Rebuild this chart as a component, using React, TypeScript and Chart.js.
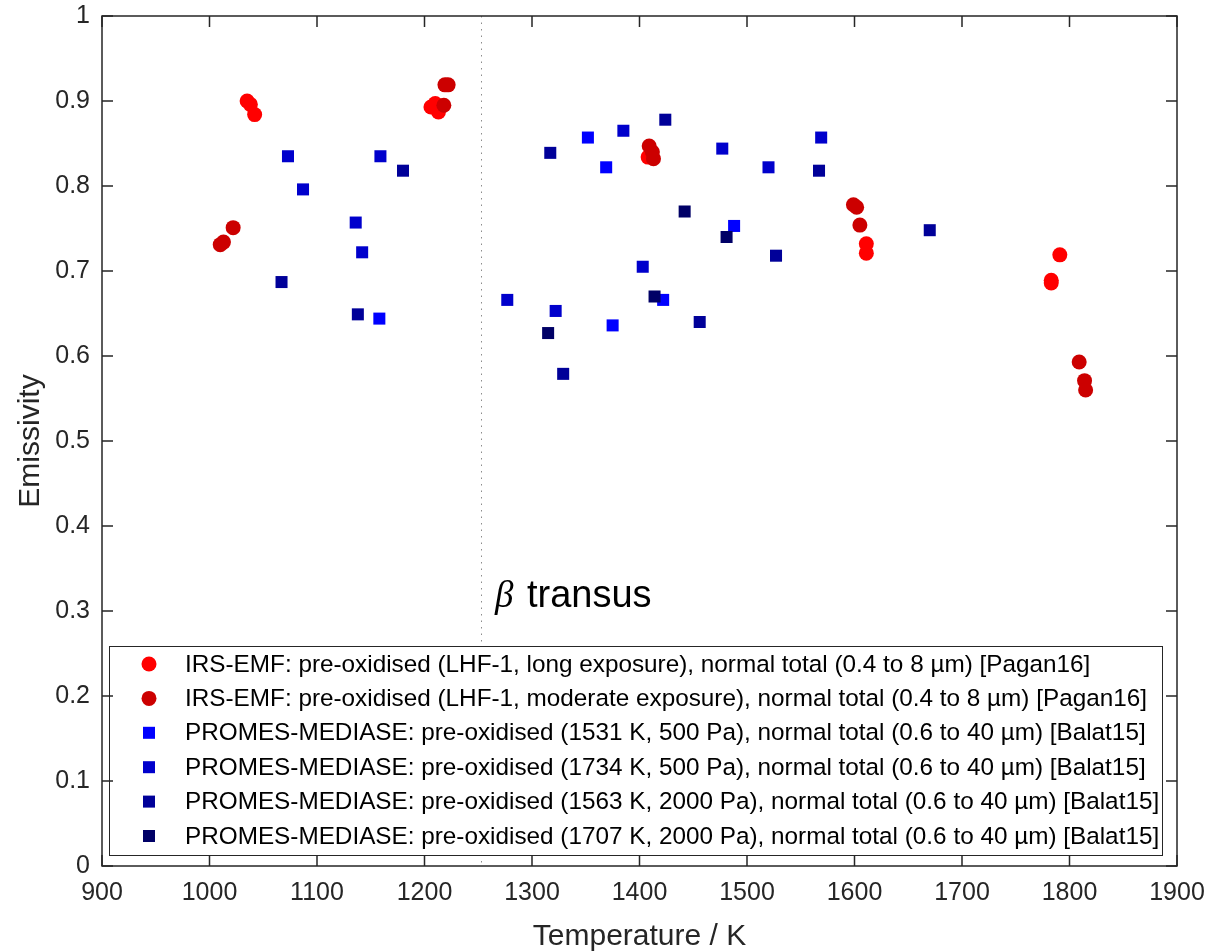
import { useEffect, useRef } from "react";
import { Chart, registerables } from "chart.js";

Chart.register(...registerables);

const xTicks = [900, 1000, 1100, 1200, 1300, 1400, 1500, 1600, 1700, 1800, 1900];
const yTicks = [0, 0.1, 0.2, 0.3, 0.4, 0.5, 0.6, 0.7, 0.8, 0.9, 1];
const betaTransus = 1253;

const longT = [1035, 1038, 1042, 1206, 1210, 1213, 1408, 1611, 1611, 1783, 1783, 1791];
const longE = [0.9, 0.896, 0.884, 0.893, 0.897, 0.887, 0.834, 0.732, 0.721, 0.689, 0.686, 0.719];

const modT = [1010, 1013, 1022, 1218, 1219, 1222, 1409, 1412, 1413, 1599, 1602, 1605, 1809, 1814, 1815];
const modE = [0.731, 0.734, 0.751, 0.895, 0.919, 0.919, 0.847, 0.84, 0.832, 0.778, 0.775, 0.754, 0.593, 0.571, 0.56];

const p1531T = [1158, 1352, 1369, 1375, 1422, 1488];
const p1531E = [0.644, 0.857, 0.822, 0.636, 0.666, 0.753];

const p1734T = [1073, 1087, 1136, 1142, 1159, 1277, 1322, 1385, 1403, 1477, 1520, 1569];
const p1734E = [0.835, 0.796, 0.757, 0.722, 0.835, 0.666, 0.653, 0.865, 0.705, 0.844, 0.822, 0.857];

const p1563T = [1067, 1138, 1180, 1317, 1329, 1424, 1456, 1527, 1567, 1670];
const p1563E = [0.687, 0.649, 0.818, 0.839, 0.579, 0.878, 0.64, 0.718, 0.818, 0.748];

const p1707T = [1315, 1414, 1442, 1481];
const p1707E = [0.627, 0.67, 0.77, 0.74];

const labels = [
  "IRS-EMF: pre-oxidised (LHF-1, long exposure), normal total (0.4 to 8 µm) [Pagan16]",
  "IRS-EMF: pre-oxidised (LHF-1, moderate exposure), normal total (0.4 to 8 µm) [Pagan16]",
  "PROMES-MEDIASE: pre-oxidised (1531 K, 500 Pa), normal total (0.6 to 40 µm) [Balat15]",
  "PROMES-MEDIASE: pre-oxidised (1734 K, 500 Pa), normal total (0.6 to 40 µm) [Balat15]",
  "PROMES-MEDIASE: pre-oxidised (1563 K, 2000 Pa), normal total (0.6 to 40 µm) [Balat15]",
  "PROMES-MEDIASE: pre-oxidised (1707 K, 2000 Pa), normal total (0.6 to 40 µm) [Balat15]",
];
const colors = ["#FF0000", "#CC0000", "#0000FF", "#0000CC", "#000099", "#000066"];
const styles = ["circle", "circle", "rect", "rect", "rect", "rect"];
const seriesT = [longT, modT, p1531T, p1734T, p1563T, p1707T];
const seriesE = [longE, modE, p1531E, p1734E, p1563E, p1707E];

const FONT = "'Liberation Sans', Arial, sans-serif";
const AXIS = "#262626";

const framePlugin = {
  id: "frame",
  beforeDatasetsDraw(chart: any) {
    const { ctx, chartArea, scales } = chart;
    const x = Math.round(scales.x.getPixelForValue(betaTransus)) + 0.5;
    ctx.save();
    ctx.strokeStyle = "#8c8c8c";
    ctx.lineWidth = 1;
    ctx.setLineDash([1.5, 5]);
    ctx.beginPath();
    ctx.moveTo(x, chartArea.top);
    ctx.lineTo(x, chartArea.bottom);
    ctx.stroke();
    ctx.restore();
  },
  afterDatasetsDraw(chart: any) {
    const { ctx, chartArea, scales } = chart;
    const { left, right, top, bottom } = chartArea;
    ctx.save();

    // beta transus text
    ctx.fillStyle = "#000";
    ctx.textBaseline = "alphabetic";
    ctx.textAlign = "left";
    ctx.font = `italic 37px 'Liberation Serif', serif`;
    ctx.fillText("β", 495, 607);
    ctx.font = `38px ${FONT}`;
    ctx.fillText("transus", 527, 607);

    // legend
    const lx = 109.5, ly = 646.5, lw = 1053, lh = 209;
    ctx.fillStyle = "#fff";
    ctx.fillRect(lx, ly, lw, lh);
    ctx.strokeStyle = AXIS;
    ctx.lineWidth = 1;
    ctx.strokeRect(lx, ly, lw, lh);
    ctx.font = `24.3px ${FONT}`;
    ctx.textBaseline = "middle";
    for (let i = 0; i < labels.length; i++) {
      const cy = 664 + i * 34.4;
      ctx.fillStyle = colors[i];
      if (styles[i] === "circle") {
        ctx.beginPath();
        ctx.arc(149, cy, 7.5, 0, Math.PI * 2);
        ctx.fill();
      } else {
        ctx.fillRect(143, cy - 6, 12, 12);
      }
      ctx.fillStyle = "#000";
      ctx.fillText(labels[i], 185, cy + 1);
    }

    // box
    ctx.strokeStyle = AXIS;
    ctx.lineWidth = 1.5;
    ctx.strokeRect(left, top, right - left, bottom - top);
    const tl = 11;
    ctx.beginPath();
    for (const v of xTicks) {
      const px = scales.x.getPixelForValue(v);
      ctx.moveTo(px, bottom);
      ctx.lineTo(px, bottom - tl);
      ctx.moveTo(px, top);
      ctx.lineTo(px, top + tl);
    }
    for (const v of yTicks) {
      const py = scales.y.getPixelForValue(v);
      ctx.moveTo(left, py);
      ctx.lineTo(left + tl, py);
      ctx.moveTo(right, py);
      ctx.lineTo(right - tl, py);
    }
    ctx.stroke();

    // axis titles
    ctx.fillStyle = AXIS;
    ctx.font = `30px ${FONT}`;
    ctx.textAlign = "center";
    ctx.textBaseline = "alphabetic";
    ctx.fillText("Temperature / K", (left + right) / 2, 945);
    ctx.save();
    ctx.translate(39, (top + bottom) / 2);
    ctx.rotate(-Math.PI / 2);
    ctx.fillText("Emissivity", 0, 0);
    ctx.restore();

    ctx.restore();
  },
};

export default function App() {
  const ref = useRef<HTMLCanvasElement>(null);
  useEffect(() => {
    if (!ref.current) return;
    const datasets = labels.map((label, i) => ({
      label,
      data: seriesT[i].map((t, j) => ({ x: t, y: seriesE[i][j] })),
      backgroundColor: colors[i],
      borderColor: colors[i],
      borderWidth: 0,
      pointStyle: styles[i],
      pointRadius: styles[i] === "circle" ? 7.5 : 8.5,
      pointHoverRadius: styles[i] === "circle" ? 7.5 : 8.5,
      order: 10 - i,
    }));
    const chart = new Chart(ref.current, {
      type: "scatter",
      data: { datasets },
      options: {
        animation: false,
        responsive: true,
        maintainAspectRatio: false,
        layout: { padding: { top: 16, right: 33, left: 0, bottom: 0 } },
        plugins: { legend: { display: false }, tooltip: { enabled: false } },
        scales: {
          x: {
            type: "linear",
            min: 900,
            max: 1900,
            afterBuildTicks: (s: any) => {
              s.ticks = xTicks.map((v) => ({ value: v }));
            },
            afterFit: (s: any) => {
              s.height = 85;
              s.paddingLeft = 0;
              s.paddingRight = 0;
              s.paddingTop = 0;
              s.paddingBottom = 0;
            },
            grid: { display: false, drawTicks: false },
            border: { display: false },
            ticks: {
              color: AXIS,
              font: { family: FONT, size: 25 },
              padding: 12,
              maxRotation: 0,
              autoSkip: false,
              callback: (v: any) => String(v),
            },
          },
          y: {
            type: "linear",
            min: 0,
            max: 1,
            afterBuildTicks: (s: any) => {
              s.ticks = yTicks.map((v) => ({ value: v }));
            },
            afterFit: (s: any) => {
              s.width = 102;
              s.paddingLeft = 0;
              s.paddingRight = 0;
              s.paddingTop = 0;
              s.paddingBottom = 0;
            },
            grid: { display: false, drawTicks: false },
            border: { display: false },
            ticks: {
              color: AXIS,
              font: { family: FONT, size: 25 },
              padding: 12,
              autoSkip: false,
              callback: (v: any) => (v === 0 ? "0" : v === 1 ? "1" : Number(v).toFixed(1)),
            },
          },
        },
      },
      plugins: [framePlugin],
    });
    return () => chart.destroy();
  }, []);
  return (
    <div style={{ position: "absolute", left: 0, top: 0, width: 1210, height: 951, background: "#fff" }}>
      <canvas ref={ref} />
    </div>
  );
}
